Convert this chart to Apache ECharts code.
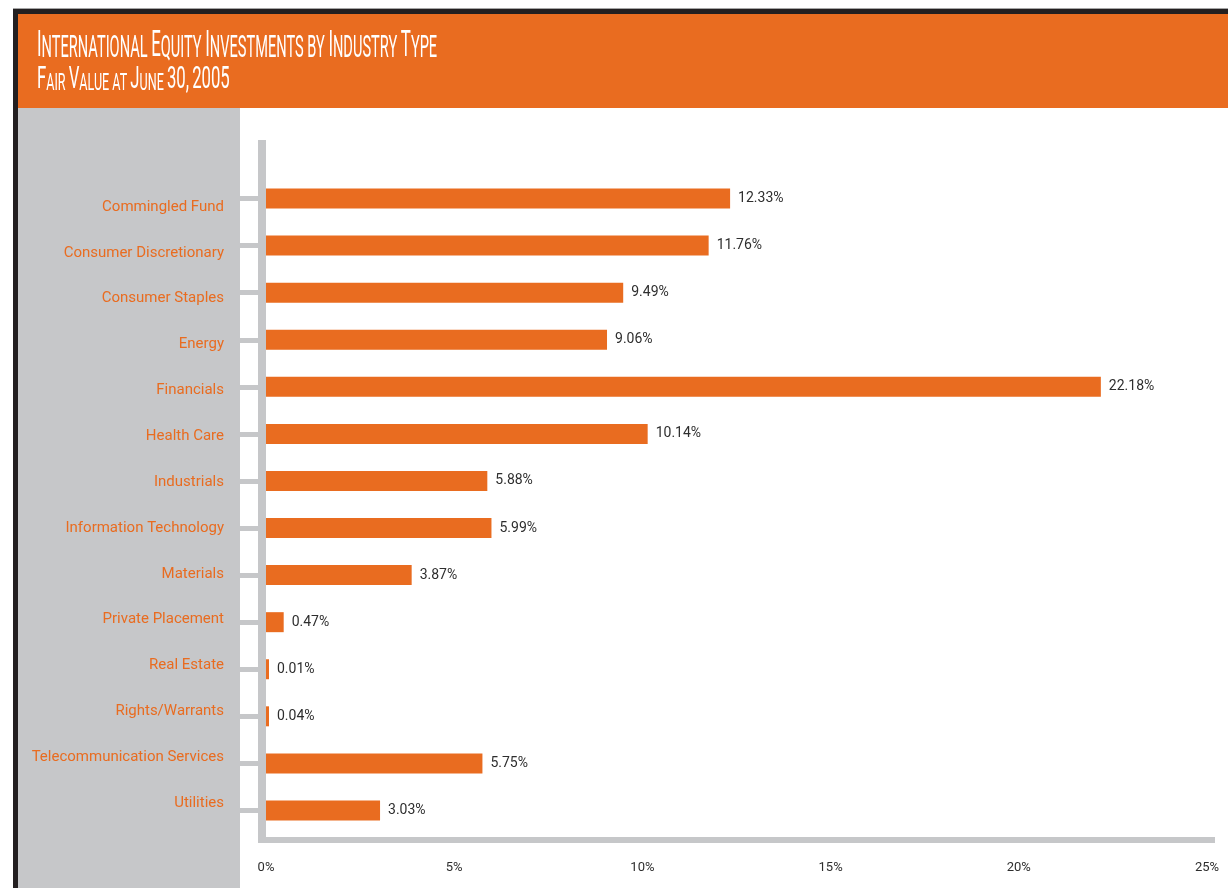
<!DOCTYPE html>
<html><head><meta charset="utf-8">
<script src="https://cdn.jsdelivr.net/npm/echarts@6/dist/echarts.min.js"></script>
<style>html,body{margin:0;padding:0;background:#fff}#c{width:1228px;height:888px}</style>
</head><body><div id="c"></div>
<script>
const categories = ['Commingled Fund','Consumer Discretionary','Consumer Staples','Energy','Financials','Health Care','Industrials','Information Technology','Materials','Private Placement','Real Estate','Rights/Warrants','Telecommunication Services','Utilities'];
const values = [12.33, 11.76, 9.49, 9.06, 22.18, 10.14, 5.88, 5.99, 3.87, 0.47, 0.01, 0.04, 5.75, 3.03];
const xTicks = [0, 5, 10, 15, 20, 25];
const titleText = 'International Equity Investments by Industry Type';
const subtitleText = 'Fair Value at June 30, 2005';

const GRAY = '#c6c7c9', ORANGE = '#e96c20', DARK = '#2e2e2e', BLACK = '#231f20';
const FONT = 'Roboto, "Liberation Sans", sans-serif';

function smallCaps(t) {
  let out = '', cur = null, buf = '';
  for (const ch of t) {
    const big = /[A-Z0-9,]/.test(ch);
    const k = big ? 'b' : 's';
    if (k !== cur) { if (buf) out += '{' + cur + '|' + buf + '}'; buf = ''; cur = k; }
    buf += ch.toUpperCase();
  }
  if (buf) out += '{' + cur + '|' + buf + '}';
  return out;
}

const chart = echarts.init(document.getElementById('c'), null, {renderer: 'canvas'});
const option = {
  animation: false,
  backgroundColor: '#ffffff',
  grid: [
    {left: 266, right: 21, top: 175, height: 659, outerBoundsMode: 'none'},
    {left: 240, width: 100, top: 184, height: 642, outerBoundsMode: 'none'}
  ],
  xAxis: [
    {gridIndex: 0, type: 'value', min: xTicks[0], max: xTicks[xTicks.length - 1], interval: xTicks[1] - xTicks[0],
     axisLine: {show: false}, axisTick: {show: false}, splitLine: {show: false},
     axisLabel: {formatter: '{value}%', color: DARK, fontFamily: FONT, fontSize: 13, margin: 27}},
    {gridIndex: 1, type: 'value', show: false}
  ],
  yAxis: [
    {gridIndex: 0, type: 'category', data: categories, inverse: true,
     axisLine: {show: false},
     axisTick: {show: true, alignWithLabel: true, length: 26, lineStyle: {color: GRAY, width: 5}},
     axisLabel: {show: false}, splitLine: {show: false}},
    {gridIndex: 1, type: 'category', data: categories, inverse: true,
     axisLine: {show: false}, axisTick: {show: false}, splitLine: {show: false},
     axisLabel: {interval: 0, color: ORANGE, fontFamily: FONT, fontSize: 15, margin: 16}}
  ],
  series: [{
    type: 'bar', xAxisIndex: 0, yAxisIndex: 0, data: values, barWidth: 20, barMinHeight: 3,
    itemStyle: {color: ORANGE},
    label: {show: true, position: 'right', distance: 8, color: DARK, fontFamily: FONT, fontSize: 14,
            formatter: p => p.value.toFixed(2) + '%'}
  }],
  graphic: {elements: [
    {type: 'rect', z: -10, silent: true, shape: {x: 13, y: 8, width: 1215, height: 1}, style: {fill: '#a6a6a6'}},
    {type: 'rect', z: -10, silent: true, shape: {x: 13, y: 9, width: 1215, height: 5}, style: {fill: BLACK}},
    {type: 'rect', z: -10, silent: true, shape: {x: 13, y: 9, width: 5, height: 879}, style: {fill: BLACK}},
    {type: 'rect', z: -10, silent: true, shape: {x: 18, y: 14, width: 1210, height: 94}, style: {fill: ORANGE}},
    {type: 'rect', z: -10, silent: true, shape: {x: 18, y: 108, width: 222, height: 780}, style: {fill: GRAY}},
    {type: 'rect', z: -10, silent: true, shape: {x: 258, y: 140, width: 8, height: 703}, style: {fill: GRAY}},
    {type: 'rect', z: -10, silent: true, shape: {x: 258, y: 837, width: 957, height: 6}, style: {fill: GRAY}},
    {type: 'text', z: 10, silent: true, x: 37, y: 28, scaleX: 0.456,
     style: {text: smallCaps(titleText), fill: '#fff', verticalAlign: 'top',
             rich: {b: {fontFamily: FONT, fontSize: 37, lineHeight: 37, color: '#fff', verticalAlign: 'bottom'},
                    s: {fontFamily: FONT, fontSize: 32, lineHeight: 37, color: '#fff', verticalAlign: 'bottom'}}}},
    {type: 'text', z: 10, silent: true, x: 37, y: 64, scaleX: 0.523,
     style: {text: smallCaps(subtitleText), fill: '#fff', verticalAlign: 'top',
             rich: {b: {fontFamily: FONT, fontSize: 32, lineHeight: 32, color: '#fff', verticalAlign: 'bottom'},
                    s: {fontFamily: FONT, fontSize: 24, lineHeight: 32, color: '#fff', verticalAlign: 'bottom'}}}}
  ]}
};
chart.setOption(option);
</script>
</body></html>
